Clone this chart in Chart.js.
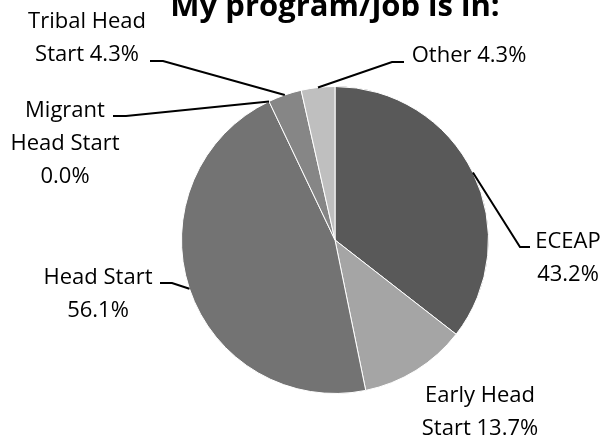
<!DOCTYPE html>
<html>
<head>
<meta charset="utf-8">
<script src="https://cdn.jsdelivr.net/npm/chart.js@4.4.0/dist/chart.umd.min.js"></script>
<style>
  html, body { margin: 0; padding: 0; background: #fff; }
  #wrap { width: 605px; height: 436px; }
</style>
</head>
<body>
<div id="wrap"><canvas id="program_chart" width="605" height="436"></canvas></div>
<script>
// data
var programs = ['ECEAP', 'Early Head Start', 'Head Start', 'Migrant Head Start', 'Tribal Head Start', 'Other'];
var percents = [43.2, 13.7, 56.1, 0.0, 4.3, 4.3];
var sliceColours = ['#595959', '#a5a5a5', '#737373', '#7f7f7f', '#868686', '#bfbfbf'];

// label text lines, placement and leader elbows (layout only)
var labelLines = [
  ['ECEAP', '43.2%'],
  ['Early Head', 'Start 13.7%'],
  ['Head Start', '56.1%'],
  ['Migrant', 'Head Start', '0.0%'],
  ['Tribal Head', 'Start 4.3%'],
  ['Other 4.3%']
];
var labelPlace = [
  {x: 568, y: 248, elbow: [520, 247], end: 530},
  {x: 480, y: 402, elbow: null},
  {x: 98,  y: 284, elbow: [172, 283], end: 160},
  {x: 65,  y: 117, elbow: [126, 116], end: 113},
  {x: 87,  y: 28,  elbow: [163, 61],  end: 150},
  {x: 469, y: 62,  elbow: [392, 62],  end: 404}
];

var labelPlugin = {
  id: 'pieLabels',
  afterDraw: function(chart) {
    var ctx = chart.ctx;
    var arcs = chart.getDatasetMeta(0).data;
    ctx.save();
    // title, partly cut at the top like the original
    ctx.fillStyle = '#000';
    ctx.font = 'bold 31px "Open Sans"';
    ctx.textAlign = 'center';
    ctx.textBaseline = 'alphabetic';
    ctx.fillText('My program/job is in:', 335, 16);

    ctx.font = '22px "Open Sans"';
    for (var i = 0; i < arcs.length; i++) {
      var p = labelPlace[i];
      var lines = labelLines[i];
      for (var j = 0; j < lines.length; j++) {
        ctx.fillText(lines[j], p.x, p.y + j * 33);
      }
      if (p.elbow) {
        var a = arcs[i];
        var mid = (a.startAngle + a.endAngle) / 2;
        var sx = a.x + Math.cos(mid) * a.outerRadius;
        var sy = a.y + Math.sin(mid) * a.outerRadius;
        ctx.beginPath();
        ctx.strokeStyle = '#000';
        ctx.lineWidth = 2;
        ctx.moveTo(sx, sy);
        ctx.lineTo(p.elbow[0], p.elbow[1]);
        ctx.lineTo(p.end, p.elbow[1]);
        ctx.stroke();
      }
    }
    ctx.restore();
  }
};

var programChart = new Chart(document.getElementById('program_chart').getContext('2d'), {
  type: 'pie',
  data: {
    labels: programs,
    datasets: [{
      data: percents,
      backgroundColor: sliceColours,
      borderColor: '#ffffff',
      borderWidth: 1
    }]
  },
  options: {
    responsive: false,
    animation: false,
    events: [],
    layout: {
      padding: {left: 181, right: 116, top: 86, bottom: 42}
    },
    plugins: {
      legend: {display: false},
      tooltip: {enabled: false},
      title: {display: false}
    }
  },
  plugins: [labelPlugin]
});
</script>
</body>
</html>
